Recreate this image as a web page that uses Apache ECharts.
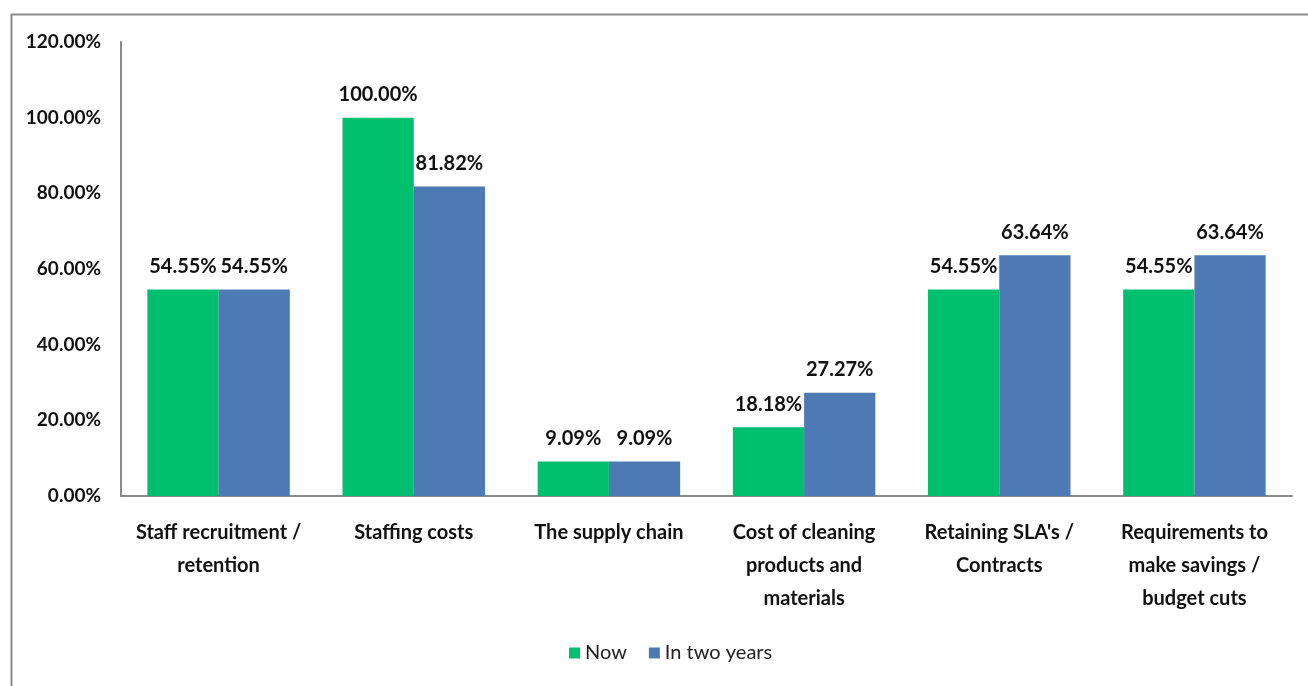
<!DOCTYPE html>
<html>
<head>
<meta charset="utf-8">
<script src="https://cdn.jsdelivr.net/npm/echarts@6/dist/echarts.min.js"></script>
<style>
  html, body { margin: 0; padding: 0; background: #fff; }
  #chart { width: 1308px; height: 686px; }
</style>
</head>
<body>
<div id="chart"></div>
<script>
// Categories (line breaks where the labels wrap)
const categories = [
  'Staff recruitment /\nretention',
  'Staffing costs',
  'The supply chain',
  'Cost of cleaning\nproducts and\nmaterials',
  "Retaining SLA's /\nContracts",
  'Requirements to\nmake savings /\nbudget cuts'
];
// Share of respondents, in percent
const nowValues = [54.55, 100.00, 9.09, 18.18, 54.55, 54.55];
const twoYearValues = [54.55, 81.82, 9.09, 27.27, 63.64, 63.64];
const seriesNames = ['Now', 'In two years'];
const yMin = 0, yMax = 120, yStep = 20;

const FONT = 'Lato, "Open Sans", sans-serif';
const chart = echarts.init(document.getElementById('chart'));

const labelStyle = {
  show: true,
  position: 'top',
  distance: 13,
  formatter: p => p.value.toFixed(2) + '%',
  fontFamily: FONT,
  fontWeight: 'bold',
  fontSize: 20,
  color: '#111'
};

chart.setOption({
  animation: false,
  backgroundColor: '#fff',
  graphic: [{
    type: 'rect',
    left: 9, top: 12,
    shape: { width: 1400, height: 800 },
    style: { fill: 'none', stroke: '#8a8a8a', lineWidth: 2 },
    silent: true
  }],
  grid: { left: 121, right: 16, top: 42, bottom: 190, containLabel: false },
  legend: {
    bottom: 18,
    left: 564,
    itemWidth: 11,
    itemHeight: 11,
    itemGap: 22,
    icon: 'rect',
    textStyle: { fontFamily: FONT, fontSize: 20, color: '#222' },
    data: seriesNames
  },
  xAxis: {
    type: 'category',
    data: categories,
    axisLine: { lineStyle: { color: '#8a8a8a', width: 2 } },
    axisTick: { show: false },
    axisLabel: {
      interval: 0,
      margin: 20,
      fontFamily: FONT,
      fontWeight: 'bold',
      fontSize: 20,
      lineHeight: 33,
      color: '#111',
      align: 'center'
    }
  },
  yAxis: {
    type: 'value',
    min: yMin, max: yMax, interval: yStep,
    axisLine: { show: true, lineStyle: { color: '#8a8a8a', width: 2 } },
    axisTick: { show: false },
    splitLine: { show: false },
    axisLabel: {
      margin: 20,
      formatter: v => v.toFixed(2) + '%',
      fontFamily: FONT,
      fontWeight: 'bold',
      fontSize: 19,
      color: '#111'
    }
  },
  series: [
    {
      name: seriesNames[0],
      type: 'bar',
      data: nowValues,
      itemStyle: { color: '#00BF6F' },
      barGap: '0%',
      barCategoryGap: '27%',
      label: labelStyle
    },
    {
      name: seriesNames[1],
      type: 'bar',
      data: twoYearValues,
      itemStyle: { color: '#4E7AB4' },
      barGap: '0%',
      barCategoryGap: '27%',
      label: labelStyle
    }
  ]
});
</script>
</body>
</html>
